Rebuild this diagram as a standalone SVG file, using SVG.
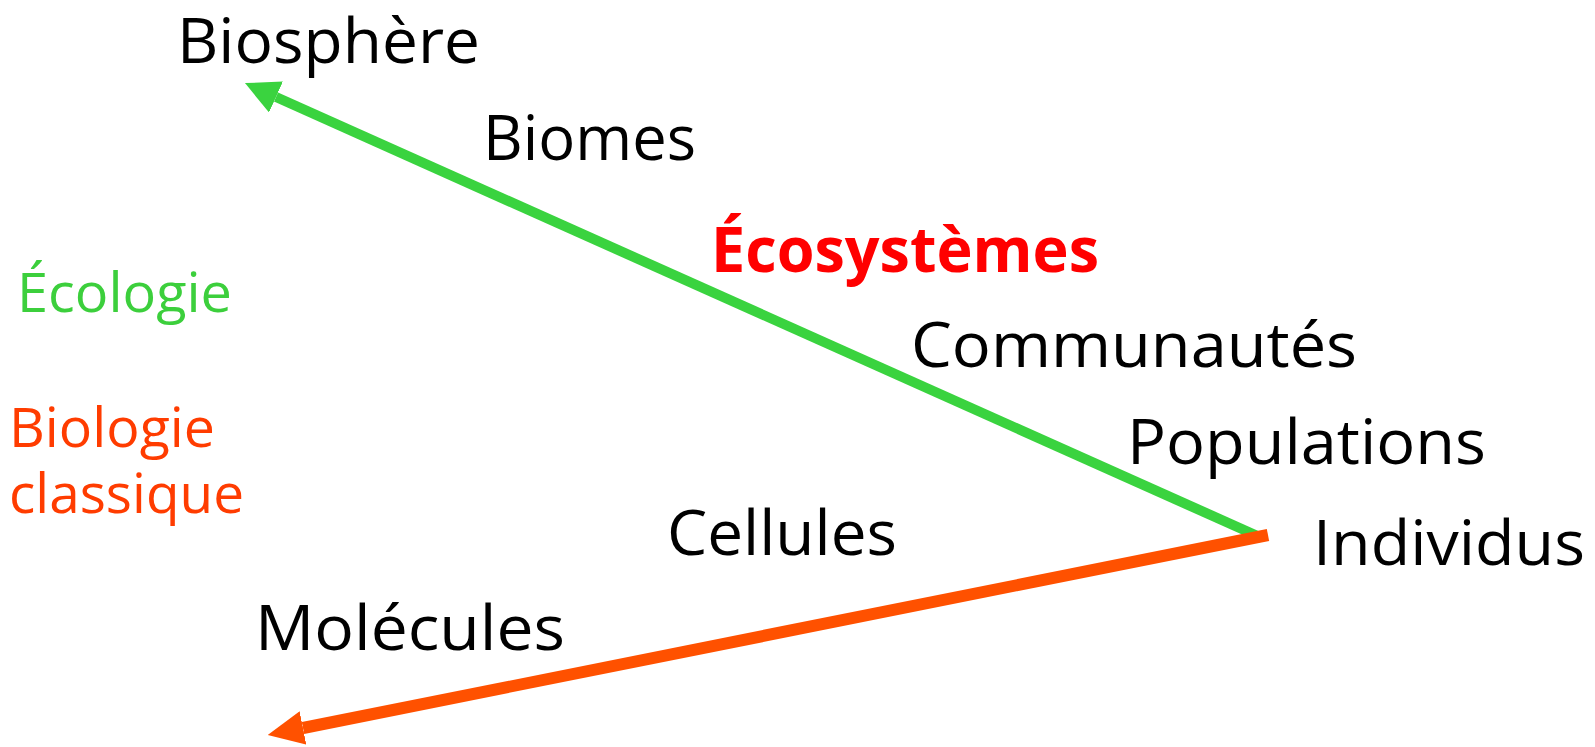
<svg xmlns="http://www.w3.org/2000/svg" width="1595" height="747" viewBox="0 0 1595 747">
  <style>
    .t { font-family: "Open Sans", "Liberation Sans", sans-serif; font-size: 63px; fill: #000; }
    .side { font-family: "Open Sans", "Liberation Sans", sans-serif; font-size: 55px; }
    .eco { fill: #3ccf3c; }
    .bio { fill: #ff3c00; }
    .key { font-weight: bold; fill: #ff0000; }
    .green { stroke: #3ad33f; stroke-width: 10; fill: none; }
    .orange { stroke: #ff5100; stroke-width: 12; fill: none; }
  </style>
  <defs>
    <marker id="headG" markerUnits="userSpaceOnUse" markerWidth="34" markerHeight="34" refX="0" refY="17" orient="auto">
      <path d="M0,0 L34,17 L0,34 z" fill="#3ad33f"/>
    </marker>
    <marker id="headO" markerUnits="userSpaceOnUse" markerWidth="36" markerHeight="34" refX="0" refY="17" orient="auto">
      <path d="M0,0 L36,17 L0,34 z" fill="#ff5100"/>
    </marker>
  </defs>
  <rect width="1595" height="747" fill="#fff"/>
  <g id="connectors">
    <line class="green" x1="1262" y1="538" x2="276" y2="97" marker-end="url(#headG)"/>
    <line class="orange" x1="1268" y1="535" x2="303" y2="728" marker-end="url(#headO)"/>
  </g>
  <g id="biosphere"><text class="t" x="177" y="63" textLength="303" lengthAdjust="spacingAndGlyphs">Biosphère</text></g>
  <g id="biomes"><text class="t" x="483" y="160" textLength="213" lengthAdjust="spacingAndGlyphs">Biomes</text></g>
  <g id="ecosystemes"><text class="t key" x="711" y="272" textLength="388" lengthAdjust="spacingAndGlyphs">Écosystèmes</text></g>
  <g id="communautes"><text class="t" x="911" y="367" textLength="446" lengthAdjust="spacingAndGlyphs">Communautés</text></g>
  <g id="populations"><text class="t" x="1127" y="464" textLength="359" lengthAdjust="spacingAndGlyphs">Populations</text></g>
  <g id="individus"><text class="t" x="1313" y="565" textLength="272" lengthAdjust="spacingAndGlyphs">Individus</text></g>
  <g id="cellules"><text class="t" x="667" y="555" textLength="230" lengthAdjust="spacingAndGlyphs">Cellules</text></g>
  <g id="molecules"><text class="t" x="255" y="650" textLength="310" lengthAdjust="spacingAndGlyphs">Molécules</text></g>
  <g id="ecologie"><text class="side eco" x="17" y="312" textLength="215" lengthAdjust="spacingAndGlyphs">Écologie</text></g>
  <g id="biologie-classique">
    <text class="side bio" x="9" y="447" textLength="206" lengthAdjust="spacingAndGlyphs">Biologie</text>
    <text class="side bio" x="9" y="513" textLength="235" lengthAdjust="spacingAndGlyphs">classique</text>
  </g>
</svg>
